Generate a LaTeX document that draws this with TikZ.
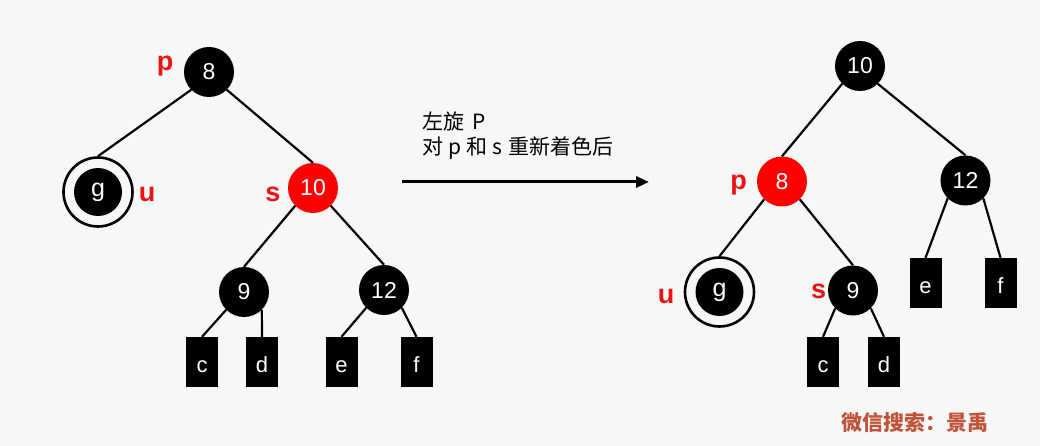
\documentclass[tikz,border=0pt]{standalone}
\usepackage{fontspec}
\setmainfont{Liberation Sans}
\newfontfamily\cjk{Noto Sans CJK SC}
\usetikzlibrary{arrows.meta}
\definecolor{bgc}{RGB}{247,247,247}
\definecolor{rbred}{RGB}{255,0,0}
\definecolor{lblred}{RGB}{235,20,20}
\definecolor{wmc}{RGB}{192,84,58}
\begin{document}
\begin{tikzpicture}[x=1pt,y=-1pt,
 bnode/.style={circle,fill=black,minimum size=50pt,inner sep=0pt,text=white,font=\fontsize{23}{23}\selectfont},
 rnode/.style={bnode,fill=rbred},
 leaf/.style={rectangle,fill=black,minimum width=32pt,minimum height=50pt,inner sep=0pt,text=white,text height=20pt,text depth=0pt,font=\fontsize{22}{22}\selectfont},
 ring/.style={circle,draw=black,line width=2.6pt,minimum size=69pt,inner sep=0pt,text=white,font=\fontsize{25}{25}\selectfont,
   path picture={\fill[black] (path picture bounding box.center) circle (24pt);}},
 tag/.style={text=lblred,font=\bfseries\fontsize{27}{27}\selectfont,anchor=base,inner sep=0pt},
 edge/.style={line width=2.2pt},
 captext/.style={anchor=west,inner sep=0pt,font=\cjk\fontsize{21}{21}\selectfont},
]
\fill[bgc] (0,0) rectangle (1040,446);
\useasboundingbox (0,0) rectangle (1040,446);

% left tree
\node[bnode] (L8) at (209,72) {8};
\node[ring] (Lg) at (98,192) {g};
\node[rnode] (L10) at (313,188) {10};
\node[bnode] (L9) at (244,292) {9};
\node[bnode] (L12) at (384,290) {12};
\node[leaf] (Lc) at (202,362) {c};
\node[leaf] (Ld) at (262,362) {d};
\node[leaf] (Le) at (341.5,362) {e};
\node[leaf] (Lf) at (416.5,362) {f};
\node[tag] (Lp) at (165,71) {p};
\node[tag] (Lu) at (147,202) {u};
\node[tag] (Ls) at (273,202) {s};

\draw[edge] (L8.south west) -- (Lg.north);
\draw[edge] (L8.south east) -- (L10.north);
\draw[edge] (L10.south west) -- (L9.north);
\draw[edge] (L10.south east) -- (L12.north);
\draw[edge] (L9.south west) -- (Lc.north);
\draw[edge] (L9.south east) -- (Ld.north);
\draw[edge] (L12.south west) -- (Le.north);
\draw[edge] (L12.south east) -- (Lf.north);

% arrow and caption
\coordinate (as) at (402,182);
\coordinate (ae) at (649,182);
\draw[line width=3pt,-{Triangle[length=13pt,width=11pt]}] (as) -- (ae);
\node[captext] (t1) at (422,122) {左旋\hspace{8pt}P};
\node[captext] (t2) at (422,148) {对\hspace{5pt}p\hspace{5pt}和\hspace{5pt}s\hspace{6pt}重新着色后};

% right tree
\node[bnode] (R10) at (860,66) {10};
\node[rnode] (R8) at (782,181.5) {8};
\node[bnode] (R12) at (965.5,180.5) {12};
\node[ring] (Rg) at (719.5,292) {g};
\node[bnode] (R9) at (853,290.5) {9};
\node[leaf] (Re) at (925.5,283) {e};
\node[leaf] (Rf) at (1000.5,283) {f};
\node[leaf] (Rc) at (823,362) {c};
\node[leaf] (Rd) at (884,362) {d};
\node[tag] (Rp) at (738.5,190) {p};
\node[tag] (Ru) at (666,303) {u};
\node[tag] (Rs) at (818.5,298) {s};

\draw[edge] (R10.south west) -- (R8.north);
\draw[edge] (R10.south east) -- (R12.north);
\draw[edge] (R8.south west) -- (Rg.north);
\draw[edge] (R8.south east) -- (R9.north);
\draw[edge] (R9.south west) -- (Rc.north);
\draw[edge] (R9.south east) -- (Rd.north);
\draw[edge] (R12.south west) -- (Re.north);
\draw[edge] (R12.south east) -- (Rf.north);

% watermark
\node[anchor=west,inner sep=0pt,text=wmc,font=\cjk\bfseries\fontsize{21}{21}\selectfont] (wm) at (841,423) {微信搜索：景禹};
\end{tikzpicture}
\end{document}
